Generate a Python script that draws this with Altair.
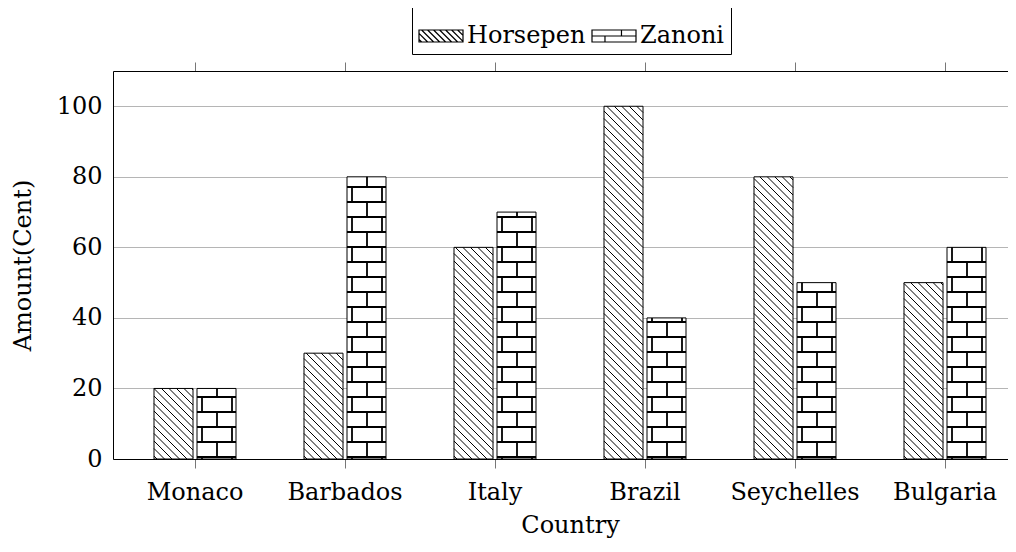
import altair as alt
import pandas as pd

# ---------------- data ----------------
countries = ["Monaco", "Barbados", "Italy", "Brazil", "Seychelles", "Bulgaria"]
horsepen = [20, 30, 60, 100, 80, 50]
zanoni = [20, 80, 70, 40, 50, 60]
series = ["Horsepen", "Zanoni"]
y_ticks = [0, 20, 40, 60, 80, 100]
y_max = 110

# ---------------- layout / style ----------------
FONT = "DejaVu Serif"
FS = 24
PLOT_W, PLOT_H = 895, 388
PPU = PLOT_H / y_max          # pixels per data unit on the y scale
STEP = 150                    # category step (px)
BAND = 82                     # width of a pair of bars (px)
GAP = 4                       # gap between the two bars (px)
BAR_W = (BAND - GAP) / 2
OUTER = 41                    # space before the first band (px)

rows = []
for c, h, z in zip(countries, horsepen, zanoni):
    rows.append({"Country": c, "Series": "Horsepen", "Amount": h})
    rows.append({"Country": c, "Series": "Zanoni", "Amount": z})
df = pd.DataFrame(rows)


def hatch_path(x0, x1, H, s=7.5, phase=3.0):
    """north-west lines clipped to a bar (pixel units, baseline at y=0)."""
    parts = []
    c = x0 + phase
    while c - H <= x1:
        xa = max(x0, c - H)
        xb = min(x1, c)
        if xb > xa:
            parts.append(f"M{xa:.2f},{xa - c:.2f}L{xb:.2f},{xb - c:.2f}")
        c += s
    return "".join(parts)


def brick_path(x0, x1, H, row=15.0, first=2.0):
    """brick pattern clipped to a bar (pixel units, baseline at y=0)."""
    xc = (x0 + x1) / 2
    bounds = [0.0]
    yb = first
    while yb < H - 0.5:
        bounds.append(yb)
        yb += row
    bounds.append(H)
    parts = []
    for b in bounds[1:-1]:
        parts.append(f"M{x0:.2f},{-b:.2f}L{x1:.2f},{-b:.2f}")
    for r in range(len(bounds) - 1):
        xs = [xc - 14.5, xc + 15.5] if r % 2 == 0 else [xc + 0.5]
        for x in xs:
            if x0 < x < x1:
                parts.append(f"M{x:.2f},{-bounds[r]:.2f}L{x:.2f},{-bounds[r + 1]:.2f}")
    return "".join(parts)


pat_rows = []
for c, h, z in zip(countries, horsepen, zanoni):
    pat_rows.append({"Country": c, "Series": "Horsepen", "base": 0,
                     "path": hatch_path(-BAND / 2, -GAP / 2, h * PPU)})
    pat_rows.append({"Country": c, "Series": "Zanoni", "base": 0,
                     "path": brick_path(GAP / 2, BAND / 2, z * PPU)})
pat = pd.DataFrame(pat_rows)

# legend swatches (normalised symbol paths, 44 x 12 px swatch)
hh = 6 / 22.0
sw = ["M-1,{0:.4f}L1,{0:.4f}L1,{1:.4f}L-1,{1:.4f}Z".format(-hh, hh)]
c = -1 - hh + 0.12
while c - hh <= 1:
    xa = max(-1, c - hh)
    xb = min(1, c + hh)
    if xb > xa:
        sw.append(f"M{xa:.4f},{xa - c:.4f}L{xb:.4f},{xb - c:.4f}")
    c += 6 / 22.0
legend_hatch = "".join(sw)
legend_brick = ("M-1,{0:.4f}L1,{0:.4f}L1,{1:.4f}L-1,{1:.4f}Z".format(-hh, hh)
                + "M-1,0L1,0"
                + f"M0.34,{-hh:.4f}L0.34,0"
                + f"M-0.41,0L-0.41,{hh:.4f}")

x_scale = alt.Scale(domain=countries, range=[0, 6 * STEP - (STEP - BAND) + 2 * OUTER],
                    paddingInner=(STEP - BAND) / STEP,
                    paddingOuter=OUTER / STEP)

bars = alt.Chart(df).mark_bar(fill="white", stroke="black", strokeWidth=1).encode(
    x=alt.X("Country:N", sort=countries, scale=x_scale,
            axis=alt.Axis(orient="bottom", labelAngle=0, labelFont=FONT, labelFontSize=FS,
                          labelColor="black", labelPadding=12, tickSize=9, tickColor="#777777",
                          tickWidth=1, domainColor="black", domainWidth=1, grid=False,
                          title="Country", titleFont=FONT, titleFontSize=FS,
                          titleFontWeight="normal", titleColor="black",
                          titleBaseline="alphabetic", titleY=73, titleX=457)),
    xOffset=alt.XOffset("Series:N", sort=series,
                        scale=alt.Scale(domain=series, paddingInner=GAP / (BAR_W + GAP),
                                        paddingOuter=0)),
    y=alt.Y("Amount:Q", scale=alt.Scale(domain=[0, y_max], nice=False),
            axis=alt.Axis(values=y_ticks, grid=True, gridColor="#b5b5b5", gridWidth=1,
                          ticks=False, labelFont=FONT, labelFontSize=FS, labelColor="black",
                          labelPadding=11, domainColor="black", domainWidth=1,
                          title="Amount(Cent)", titleFont=FONT, titleFontSize=FS,
                          titleFontWeight="normal", titleColor="black", titleAngle=270,
                          titleX=-90, titleY=PLOT_H / 2, titleBaseline="middle",
                          titleAlign="center")),
)

hatch = alt.Chart(pat[pat.Series == "Horsepen"]).mark_point(
    filled=False, size=4, opacity=1, color="black", strokeWidth=1
).encode(
    x=alt.X("Country:N", sort=countries,
            axis=alt.Axis(orient="top", labels=False, title=None, grid=False,
                          domainColor="black", domainWidth=1, tickSize=9,
                          tickColor="#777777", tickWidth=1)),
    y=alt.Y("base:Q"),
    shape=alt.Shape("path:N", scale=None),
)

bricks = alt.Chart(pat[pat.Series == "Zanoni"]).mark_point(
    filled=False, size=4, opacity=1, color="black", strokeWidth=1.8
).encode(
    x=alt.X("Country:N", sort=countries, axis=None),
    y=alt.Y("base:Q"),
    shape=alt.Shape("path:N", scale=None),
)

legend_layer = alt.Chart(pd.DataFrame({"Series": series})).mark_point(
    filled=False, opacity=0, color="black", strokeWidth=1.2
).encode(
    shape=alt.Shape("Series:N", scale=alt.Scale(domain=series, range=[legend_hatch, legend_brick]),
                    legend=alt.Legend(title=None, orient="none", legendX=299, legendY=-64,
                                      direction="horizontal", strokeColor="black",
                                      fillColor="white", padding=6, symbolSize=1936,
                                      symbolOpacity=1, symbolStrokeColor="black",
                                      symbolFillColor="white", symbolStrokeWidth=1.2,
                                      labelFont=FONT, labelFontSize=FS, labelColor="black",
                                      labelOffset=3, columnPadding=3)),
)

chart = alt.layer(bars, hatch, bricks, legend_layer).resolve_axis(x="independent").properties(
    width=PLOT_W, height=PLOT_H,
    autosize=alt.AutoSizeParams(type="none"),
    padding={"left": 105, "top": 63, "right": 0, "bottom": 79},
    background="white",
).configure_view(stroke=None)

chart.save("out.html", embed_options={"renderer": "svg", "actions": False})
